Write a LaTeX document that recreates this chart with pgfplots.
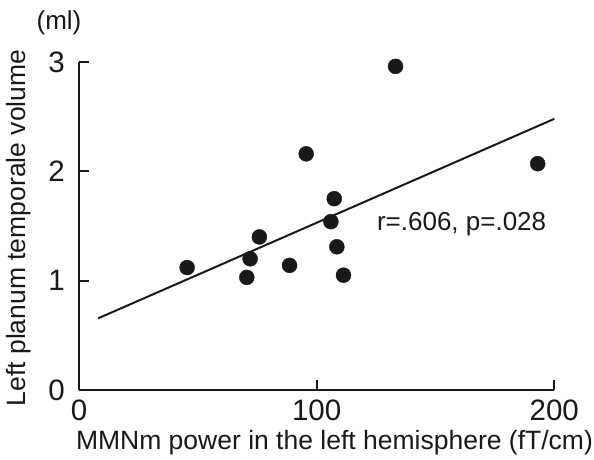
\documentclass[border=0pt]{standalone}
\usepackage{pgfplots}
\pgfplotsset{compat=1.18}
\usepackage{fontspec}
\setmainfont{Liberation Sans}
\begin{document}
\fontsize{26bp}{31bp}\selectfont
\begin{tikzpicture}
\useasboundingbox (-79bp,-70bp) rectangle (515bp,390bp);
\begin{axis}[
  at={(0,0)}, anchor=south west,
  scale only axis, width=475.3bp, height=328bp,
  xmin=0, xmax=200, ymin=0, ymax=3,
  axis lines*=left,
  axis line style={line width=2bp, color=black!90},
  tick align=inside, major tick length=10bp,
  tick style={line width=2bp, color=black!90},
  xtick={0,100,200}, ytick={0,1,2,3},
  xticklabels={0,100,200}, yticklabels={0,1,2,3},
  hide obscured x ticks=false, hide obscured y ticks=false,
  /pgf/number format/assume math mode=true,
  ticklabel style={font=\fontsize{29.5bp}{34bp}\selectfont, text=black!90},
  xticklabel style={inner sep=0pt, yshift=-10bp},
  yticklabel style={inner sep=0pt, xshift=-14bp},
  xlabel={MMNm power in the left hemisphere (fT/cm)},
  label style={font=\fontsize{26.5bp}{31bp}\selectfont, text=black!90},
  xlabel style={at={(axis description cs:0.5375,0)}, anchor=center, yshift=-53bp},
  clip=false,
]
\addplot[only marks, mark=*, mark size=7.5bp, color=black!90] coordinates {
(45.5,1.12) (70.6,1.03) (72,1.20) (75.9,1.40) (88.6,1.14) (95.6,2.16)
(106,1.54) (107.4,1.75) (108.5,1.31) (111.3,1.05) (133.2,2.96) (193,2.07)
};
\addplot[line width=2bp, color=black!90, mark=none] coordinates {(8.1,0.656) (200,2.48)};
\node[text=black!90] at (axis cs:161,1.52) {r=.606, p=.028};
\node[text=black!90] at (axis description cs:-0.042,1.119) {(ml)};
\node[text=black!90, rotate=90, font=\fontsize{26.5bp}{31bp}\selectfont] at ([xshift=-60bp]axis description cs:0,0.494) {Left planum temporale volume};
\end{axis}
\end{tikzpicture}
\end{document}
